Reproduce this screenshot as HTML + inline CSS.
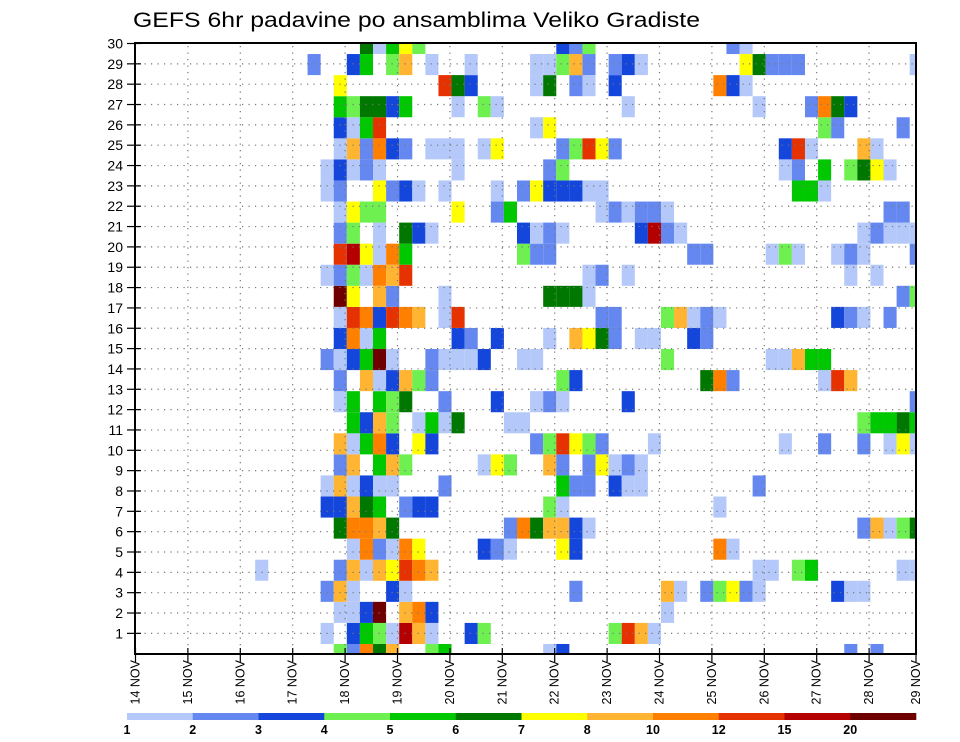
<!DOCTYPE html>
<html><head><meta charset="utf-8">
<style>
html,body{margin:0;padding:0;background:#fff;}
svg{display:block;font-family:"Liberation Sans",sans-serif;}
</style></head>
<body>
<svg id="chart" width="960" height="742" viewBox="0 0 960 742" xmlns="http://www.w3.org/2000/svg">
  <defs><clipPath id="plotclip"><rect x="135" y="43" width="781" height="611"/></clipPath></defs>
  <text x="133" y="27" font-size="21" textLength="567" lengthAdjust="spacingAndGlyphs" fill="#000">GEFS 6hr padavine po ansamblima Veliko Gradiste</text>
  <g id="cells" clip-path="url(#plotclip)"></g>
  <g id="grid"></g>
  <g id="yaxis"></g>
  <g id="xaxis"></g>
  <rect x="135" y="43" width="781" height="611" fill="none" stroke="#000" stroke-width="2"/>
  <g id="legend"></g>
</svg>
<script>
// ---- data ----
const levels = [1, 2, 3, 4, 5, 6, 7, 8, 10, 12, 15, 20];
const levelColors = ["#b4c8fa","#6488f0","#1446dc","#6ef050","#00c800","#007800","#ffff00","#ffb432","#ff8000","#e63200","#b40000","#6e0000"];
const dayLabels = ["14 NOV","15 NOV","16 NOV","17 NOV","18 NOV","19 NOV","20 NOV","21 NOV","22 NOV","23 NOV","24 NOV","25 NOV","26 NOV","27 NOV","28 NOV","29 NOV"];
const memberTicks = [1,2,3,4,5,6,7,8,9,10,11,12,13,14,15,16,17,18,19,20,21,22,23,24,25,26,27,28,29,30];
// per-member (row index 0 = bottom) : 6-hourly step indices and precipitation amounts (mm)
const rowSteps = [
 [16,17,18,19,20,23,24,32,33,55,57],
 [15,17,18,19,20,21,22,23,26,27,37,38,39,40],
 [16,17,18,19,21,22,23,41],
 [15,16,17,20,21,34,41,42,44,45,46,47,48,54,55,56],
 [10,16,17,18,19,20,21,22,23,48,49,51,52,59,60],
 [17,18,19,20,21,22,27,28,29,33,34,45,46],
 [16,17,18,19,20,29,30,31,32,33,34,35,56,57,58,59,60],
 [15,16,17,18,19,21,22,23,32,33,45],
 [15,16,17,18,19,20,24,33,34,35,37,38,39,48],
 [16,17,19,20,21,27,28,29,32,33,35,36,37,38,39],
 [16,17,18,19,20,22,23,31,32,33,34,35,36,40,50,53,56,58,59,60],
 [17,18,19,20,22,23,24,25,29,30,56,57,58,59,60],
 [16,17,19,20,21,24,28,31,32,33,38,60],
 [16,18,19,20,21,22,23,33,34,44,45,46,53,54,55],
 [15,16,17,18,19,20,23,24,25,26,27,30,31,41,49,50,51,52,53],
 [16,17,18,19,25,26,28,32,34,35,36,37,39,40,43,44],
 [16,17,18,19,20,21,22,24,25,36,37,41,42,43,44,45,54,55,56,58],
 [16,17,19,20,24,32,33,34,35,59,60],
 [15,16,17,18,19,20,21,35,36,38,55,57],
 [16,17,18,19,20,21,30,31,32,43,44,49,50,51,54,55,56,60],
 [16,17,19,21,22,23,30,31,32,33,39,40,41,42,56,57,58,59,60],
 [16,17,18,19,25,28,29,36,37,38,39,40,41,58,59],
 [15,16,19,20,21,22,24,28,30,31,32,33,34,35,36,51,52,53],
 [15,16,17,18,19,25,32,33,50,51,53,55,56,57,58],
 [16,17,18,19,20,21,23,24,25,27,28,33,34,35,36,37,50,51,52,56,57],
 [16,17,18,19,31,32,53,54,59],
 [16,17,18,19,20,21,25,27,28,38,48,52,53,54,55],
 [16,24,25,26,31,32,34,35,37,45,46,47],
 [14,17,18,20,21,23,26,31,32,33,34,35,37,38,39,47,48,49,50,51,60],
 [18,19,20,21,22,33,34,35,46,47]
];
const rowAmounts = [
 [4.5,2.5,11,6.5,9,4.5,5.5,1.5,3.5,2.5,2.5],
 [1.5,3.5,5.5,4.5,1.5,17,9,1.5,3.5,4.5,4.5,13,9,1.5],
 [1.5,1.5,3.5,25,9,11,3.5,1.5],
 [2.5,9,1.5,3.5,1.5,2.5,9,1.5,2.5,4.5,7.5,2.5,1.5,3.5,1.5,1.5],
 [1.5,2.5,9,1.5,9,7.5,13,11,9,1.5,1.5,4.5,5.5,1.5,1.5],
 [1.5,11,2.5,1.5,11,7.5,3.5,2.5,1.5,7.5,3.5,11,1.5],
 [6.5,11,11,9,6.5,2.5,11,6.5,9,9,3.5,1.5,2.5,9,1.5,4.5,6.5],
 [3.5,3.5,9,6.5,5.5,2.5,3.5,3.5,4.5,1.5,1.5],
 [1.5,9,1.5,3.5,1.5,1.5,2.5,5.5,2.5,2.5,3.5,1.5,1.5,2.5],
 [2.5,9,5.5,9,4.5,1.5,7.5,4.5,9,2.5,2.5,7.5,1.5,2.5,1.5],
 [9,1.5,5.5,11,3.5,7.5,3.5,2.5,4.5,13,7.5,4.5,2.5,1.5,1.5,2.5,2.5,1.5,7.5,1.5],
 [5.5,3.5,9,4.5,1.5,5.5,1.5,6.5,1.5,1.5,4.5,5.5,5.5,6.5,5.5],
 [1.5,5.5,5.5,4.5,6.5,2.5,3.5,1.5,2.5,1.5,3.5,2.5],
 [2.5,9,1.5,3.5,9,4.5,2.5,4.5,3.5,6.5,11,2.5,1.5,13,9],
 [2.5,1.5,3.5,5.5,25,1.5,2.5,1.5,1.5,1.5,3.5,1.5,1.5,4.5,1.5,1.5,9,5.5,5.5],
 [3.5,11,1.5,5.5,3.5,2.5,3.5,1.5,9,7.5,6.5,2.5,1.5,1.5,3.5,2.5],
 [1.5,13,11,3.5,13,11,9,1.5,13,2.5,2.5,4.5,9,1.5,2.5,1.5,3.5,2.5,1.5,2.5],
 [25,7.5,9,2.5,1.5,6.5,6.5,6.5,1.5,2.5,4.5],
 [1.5,2.5,4.5,1.5,11,9,13,1.5,2.5,1.5,1.5,1.5],
 [13,17,7.5,1.5,11,5.5,4.5,2.5,2.5,2.5,2.5,1.5,4.5,1.5,1.5,2.5,1.5,2.5],
 [2.5,4.5,1.5,6.5,3.5,1.5,3.5,1.5,2.5,1.5,3.5,17,2.5,1.5,1.5,2.5,1.5,1.5,1.5],
 [1.5,7.5,4.5,4.5,7.5,2.5,5.5,1.5,2.5,1.5,2.5,2.5,1.5,2.5,2.5],
 [1.5,2.5,7.5,2.5,3.5,1.5,1.5,1.5,2.5,7.5,3.5,3.5,3.5,1.5,1.5,5.5,5.5,1.5],
 [1.5,3.5,1.5,2.5,1.5,1.5,2.5,4.5,1.5,2.5,5.5,4.5,6.5,7.5,1.5],
 [1.5,9,2.5,11,3.5,2.5,1.5,1.5,1.5,1.5,7.5,2.5,4.5,13,7.5,2.5,3.5,13,1.5,9,1.5],
 [3.5,1.5,5.5,13,1.5,7.5,4.5,2.5,2.5],
 [5.5,4.5,6.5,6.5,3.5,5.5,1.5,4.5,1.5,1.5,1.5,2.5,11,6.5,3.5],
 [7.5,13,6.5,3.5,1.5,6.5,2.5,1.5,3.5,11,3.5,1.5],
 [2.5,3.5,5.5,4.5,9,1.5,1.5,1.5,1.5,4.5,9,2.5,2.5,3.5,1.5,7.5,6.5,2.5,2.5,2.5,1.5],
 [6.5,1.5,5.5,7.5,4.5,3.5,2.5,4.5,2.5,1.5]
];

// ---- scales ----
const NS = "http://www.w3.org/2000/svg";
const stepW = 13.09;
function xStep(i){ return 124.3 + stepW * i; }
const rowH = 21.07;
function yRow(k){ return 644 - rowH * k; }
function yTick(m){ return 43.5 + (30 - m) * 20.34; }
const dayW = 52.4;
function xDay(d){ return d === 15 ? 916 : 135.5 + dayW * d; }
function colorFor(v){
  let idx = -1;
  for (let n = 0; n < levels.length; n++) if (v >= levels[n]) idx = n;
  return idx < 0 ? null : levelColors[idx];
}
function mk(tag, attrs, parent){
  const e = document.createElementNS(NS, tag);
  for (const k in attrs) e.setAttribute(k, attrs[k]);
  parent.appendChild(e); return e;
}

// ---- cells ----
const gCells = document.getElementById("cells");
rowSteps.forEach((steps, k) => {
  steps.forEach((i, n) => {
    const c = colorFor(rowAmounts[k][n]);
    if (!c) return;
    const r = mk("rect", {x: xStep(i).toFixed(2), y: yRow(k).toFixed(2), width: stepW.toFixed(2), height: rowH.toFixed(2), fill: c}, gCells);
    
    
  });
});

// ---- grid ----
const gGrid = document.getElementById("grid");
memberTicks.forEach(m => {
  const y = yTick(m);
  if (m === 30) return;
  const l = mk("line", {x1: 138, x2: 916, y1: y, y2: y, stroke: "#777", "stroke-width": 1.2, "stroke-dasharray": "1.2 5.3"}, gGrid);
  
  
});
dayLabels.forEach((d, n) => {
  if (n === 0 || n === 15) return;
  const x = xDay(n);
  const l = mk("line", {x1: x, x2: x, y1: 46, y2: 654, stroke: "#777", "stroke-width": 1.2, "stroke-dasharray": "1.2 5.3"}, gGrid);
  
  
});

// ---- y axis ----
const gY = document.getElementById("yaxis");
memberTicks.forEach(m => {
  const y = yTick(m);
  const t = mk("line", {x1: 127, x2: 141, y1: y, y2: y, stroke: "#000", "stroke-width": 1.2}, gY);
  
  
  const tx = mk("text", {x: 123, y: y + 5, "font-size": 14, "text-anchor": "end", fill: "#000"}, gY);
  tx.textContent = m;
  
  
});

// ---- x axis ----
const gX = document.getElementById("xaxis");
dayLabels.forEach((d, n) => {
  const x = xDay(n);
  const t = mk("line", {x1: x, x2: x, y1: 648, y2: 662, stroke: "#000", "stroke-width": 1.2}, gX);
  
  
  const lx = x + 4;
  const tx = mk("text", {x: lx, y: 660, "font-size": 12.5, "text-anchor": "end", fill: "#000", transform: "rotate(-90 " + lx + " 660)"}, gX);
  tx.textContent = d;
  
  
});

// ---- legend ----
const gL = document.getElementById("legend");
const segW = 65.75;
levelColors.forEach((c, n) => {
  const r = mk("rect", {x: (127 + segW * n).toFixed(2), y: 713, width: (segW + 0.3).toFixed(2), height: 7, fill: c}, gL);
  
  
});
levels.forEach((v, n) => {
  const tx = mk("text", {x: (127 + segW * n).toFixed(2), y: 734, "font-size": 12.5, "font-weight": "bold", "text-anchor": "middle", fill: "#000"}, gL);
  tx.textContent = v;
  
  
});
</script>
</body></html>
